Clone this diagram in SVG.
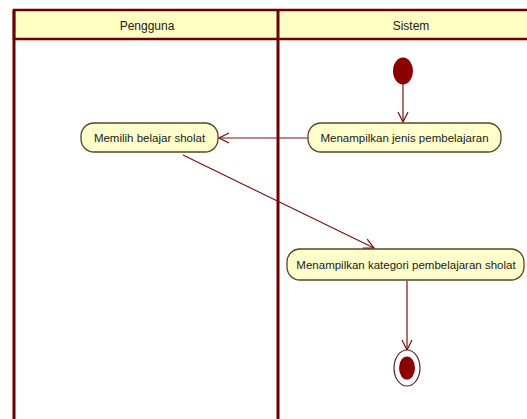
<svg xmlns="http://www.w3.org/2000/svg" width="527" height="419" viewBox="0 0 527 419">
<defs>
<style>
.lane{fill:none;stroke:#6e0000;stroke-width:3}
.hdr{fill:#ffffc4;stroke:#6e0000;stroke-width:2.5}
.t{font-family:"Liberation Sans",Arial,sans-serif;font-size:12px;fill:#1a1a1a}
.n{font-family:"Liberation Sans",Arial,sans-serif;font-size:11.5px;fill:#1a1a1a}
.act{fill:#ffffcc;stroke:#5c4326;stroke-width:1.3}
.con{fill:none;stroke:#7a1010;stroke-width:1.2}
</style>
<marker id="arr" viewBox="0 0 12 12" refX="11" refY="6" markerWidth="12" markerHeight="12" markerUnits="userSpaceOnUse" orient="auto">
<path d="M1,1 L11,6 L1,11" fill="none" stroke="#7a1010" stroke-width="1.2"/>
</marker>
</defs>
<rect width="527" height="419" fill="#ffffff"/>
<g id="lanes">
<rect class="hdr" x="14" y="10" width="520" height="29"/>
<line class="lane" x1="14" y1="10" x2="14" y2="425"/>
<line class="lane" x1="278" y1="10" x2="278" y2="425"/>
<text class="t" x="147" y="30" text-anchor="middle">Pengguna</text>
<text class="t" x="411" y="30" text-anchor="middle">Sistem</text>
</g>
<g id="connectors">
<line class="con" x1="403" y1="84" x2="403" y2="122" marker-end="url(#arr)"/>
<line class="con" x1="308" y1="138" x2="219" y2="138" marker-end="url(#arr)"/>
<line class="con" x1="183" y1="155" x2="374" y2="248" marker-end="url(#arr)"/>
<line class="con" x1="407" y1="281" x2="407" y2="350" marker-end="url(#arr)"/>
</g>
<g id="start">
<ellipse cx="403" cy="71" rx="10" ry="13.5" fill="#8b0000"/>
</g>
<g id="memilih">
<rect class="act" x="81" y="123" width="137" height="29" rx="13" ry="13"/>
<text class="n" x="149.5" y="142" text-anchor="middle">Memilih belajar sholat</text>
</g>
<g id="jenis">
<rect class="act" x="308" y="123" width="193" height="29" rx="13" ry="13"/>
<text class="n" x="404.5" y="142" text-anchor="middle">Menampilkan jenis pembelajaran</text>
</g>
<g id="kategori">
<rect class="act" x="287" y="249" width="237" height="31" rx="13" ry="13"/>
<text class="n" x="406" y="269" text-anchor="middle">Menampilkan kategori pembelajaran sholat</text>
</g>
<g id="end">
<ellipse cx="407" cy="368" rx="13" ry="18" fill="#ffffff" stroke="#5c2020" stroke-width="1.2"/>
<ellipse cx="407" cy="368" rx="8" ry="11.5" fill="#8b0000"/>
</g>
</svg>
